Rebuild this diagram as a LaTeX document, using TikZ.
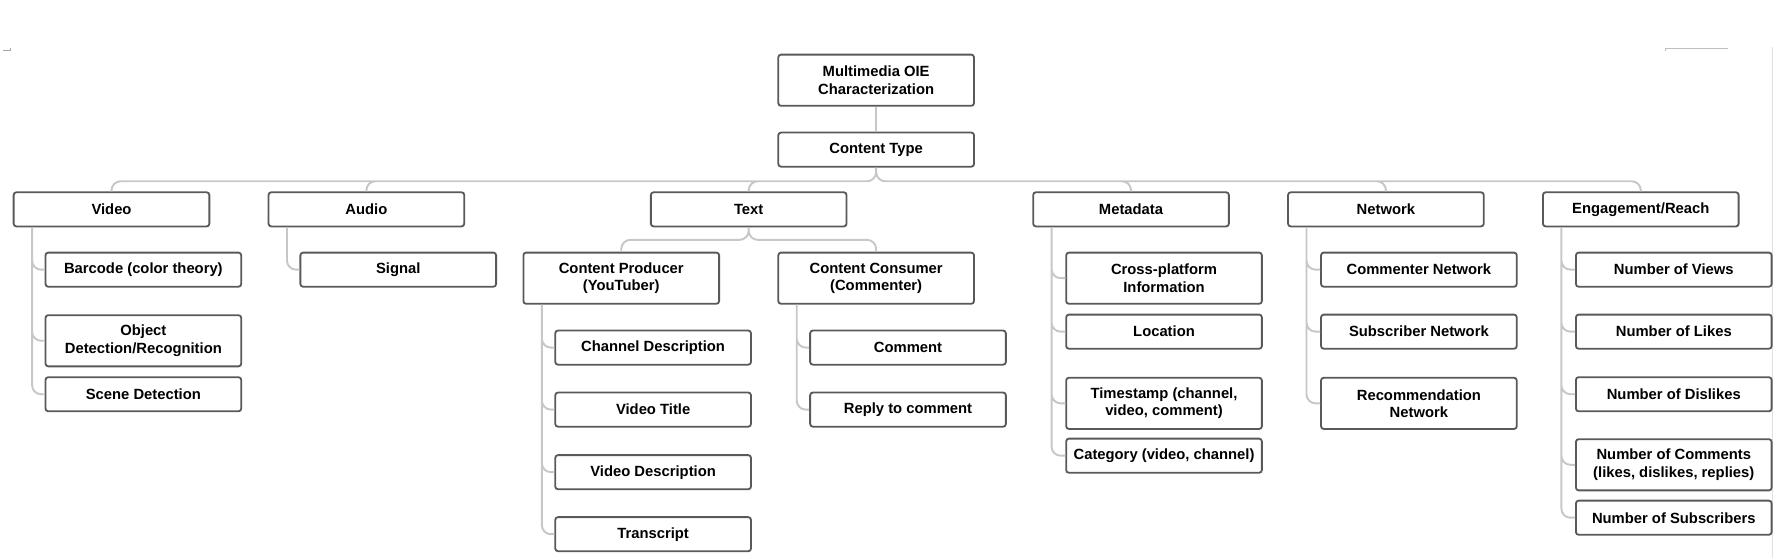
\documentclass[tikz,border=0pt]{standalone}
\usepackage{fontspec}
\setmainfont{Liberation Sans}
\usepackage{tikz}

\begin{document}
\begin{tikzpicture}[x=0.5pt,y=-0.5pt,
    box/.style={draw=black!65,line width=0.8pt,rounded corners=1.2pt,fill=white,
      minimum width=86pt,minimum height=15pt,inner sep=1pt,align=center,
      font=\fontsize{6.5}{7.6}\selectfont\bfseries},
    tall/.style={minimum height=22.5pt},
    link/.style={draw=black!22,line width=0.85pt,rounded corners=4pt}]
  \useasboundingbox (0,0) rectangle (1567,490);
  % page edges of the screenshot
  \draw[black!12,line width=0.6pt] (1558,41) -- (1558,490);
  \draw[black!25,line width=0.4pt] (1464,45) -- (1464,43) -- (1519,43);
  \draw[black!35,line width=0.4pt] (3,44) -- (9,44) -- (9,42);

  \node[box,tall] (root) at (770,70.5) {Multimedia OIE\\Characterization};
  \node[box] (ctype) at (770,131.5) {Content Type};

  \node[box] (video) at (98,184) {Video};
  \node[box] (audio) at (322,184) {Audio};
  \node[box] (text) at (658,184) {Text};
  \node[box] (meta) at (994,184) {Metadata};
  \node[box] (net) at (1218,184) {Network};
  \node[box] (eng) at (1442,184) {Engagement/Reach};

  % video
  \node[box] (barcode) at (126,237) {Barcode (color theory)};
  \node[box,tall] (objdet) at (126,299.5) {Object\\Detection/Recognition};
  \node[box] (scene) at (126,346.5) {Scene Detection};
  % audio
  \node[box] (signal) at (350,237) {Signal};
  % text
  \node[box,tall] (prod) at (546,244.5) {Content Producer\\(YouTuber)};
  \node[box,tall] (cons) at (770,244.5) {Content Consumer\\(Commenter)};
  \node[box] (chandesc) at (574,305.5) {Channel Description};
  \node[box] (vidtitle) at (574,360) {Video Title};
  \node[box] (viddesc) at (574,415) {Video Description};
  \node[box] (transcr) at (574,469.5) {Transcript};
  \node[box] (comment) at (798,305.5) {Comment};
  \node[box] (reply) at (798,360) {Reply to comment};
  % metadata
  \node[box,tall] (cross) at (1023,244.5) {Cross-platform\\Information};
  \node[box] (loc) at (1023,291.5) {Location};
  \node[box,tall] (tstamp) at (1023,354.5) {Timestamp (channel,\\video, comment)};
  \node[box] (categ) at (1023,400.5) {Category (video, channel)};
  % network
  \node[box] (cnet) at (1247,237) {Commenter Network};
  \node[box] (snet) at (1247,291.5) {Subscriber Network};
  \node[box,tall] (rnet) at (1247,354.5) {Recommendation\\Network};
  % engagement
  \node[box] (views) at (1471,237) {Number of Views};
  \node[box] (likes) at (1471,291.5) {Number of Likes};
  \node[box] (dislikes) at (1471,346.5) {Number of Dislikes};
  \node[box,tall] (ncomm) at (1471,408.5) {Number of Comments\\(likes, dislikes, replies)};
  \node[box] (subs) at (1471,455) {Number of Subscribers};

  \draw[link] (root) -- (ctype);
  \draw[link] (ctype.south) -- ++(0,12) -| (video.north)
    (ctype.south) -- ++(0,12) -| (audio.north)
    (ctype.south) -- ++(0,12) -| (text.north)
    (ctype.south) -- ++(0,12) -| (meta.north)
    (ctype.south) -- ++(0,12) -| (net.north)
    (ctype.south) -- ++(0,12) -| (eng.north);
  \draw[link] (text.south) -- ++(0,11) -| (prod.north)
    (text.south) -- ++(0,11) -| (cons.north);

  \coordinate (videoT) at ([xshift=8.5pt]video.south west);
  \coordinate (audioT) at ([xshift=8.5pt]audio.south west);
  \coordinate (prodT) at ([xshift=8.5pt]prod.south west);
  \coordinate (consT) at ([xshift=8.5pt]cons.south west);
  \coordinate (metaT) at ([xshift=8.5pt]meta.south west);
  \coordinate (netT) at ([xshift=8.5pt]net.south west);
  \coordinate (engT) at ([xshift=8.5pt]eng.south west);
  \draw[link] (videoT) |- (barcode.west) (videoT) |- (objdet.west) (videoT) |- (scene.west);
  \draw[link] (audioT) |- (signal.west);
  \draw[link] (prodT) |- (chandesc.west) (prodT) |- (vidtitle.west)
    (prodT) |- (viddesc.west) (prodT) |- (transcr.west);
  \draw[link] (consT) |- (comment.west) (consT) |- (reply.west);
  \draw[link] (metaT) |- (cross.west) (metaT) |- (loc.west)
    (metaT) |- (tstamp.west) (metaT) |- (categ.west);
  \draw[link] (netT) |- (cnet.west) (netT) |- (snet.west) (netT) |- (rnet.west);
  \draw[link] (engT) |- (views.west) (engT) |- (likes.west) (engT) |- (dislikes.west)
    (engT) |- (ncomm.west) (engT) |- (subs.west);
\end{tikzpicture}
\end{document}
